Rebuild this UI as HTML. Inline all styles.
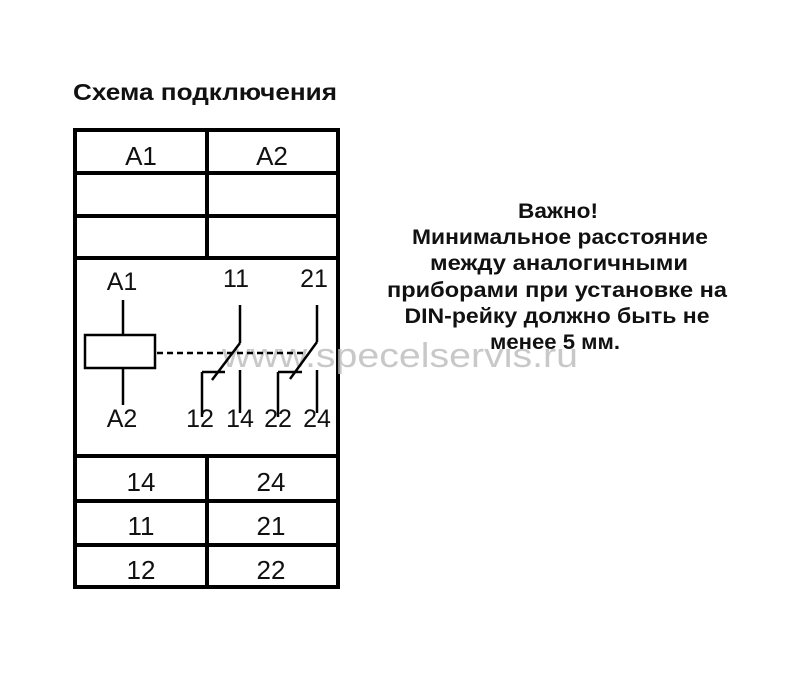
<!DOCTYPE html>
<html><head><meta charset="utf-8"><style>
html,body{margin:0;padding:0;background:#fff;}
svg{display:block;}
</style></head><body>
<svg width="800" height="700" viewBox="0 0 800 700" xmlns="http://www.w3.org/2000/svg" font-family="Liberation Sans, sans-serif">
<rect width="800" height="700" fill="#fff"/>
<text x="73" y="100" font-size="23" font-weight="bold" fill="#111" textLength="264" lengthAdjust="spacingAndGlyphs">Схема подключения</text>
<g stroke="#000" stroke-width="4" fill="none">
<rect x="75" y="130" width="263" height="457"/>
<line x1="73" y1="173" x2="340" y2="173"/>
<line x1="73" y1="216" x2="340" y2="216"/>
<line x1="73" y1="258" x2="340" y2="258"/>
<line x1="73" y1="456" x2="340" y2="456"/>
<line x1="73" y1="501" x2="340" y2="501"/>
<line x1="73" y1="545" x2="340" y2="545"/>
<line x1="207" y1="130" x2="207" y2="258"/>
<line x1="207" y1="456" x2="207" y2="589"/>
</g>
<g font-size="26" fill="#111" text-anchor="middle">
<text x="141" y="165">A1</text><text x="272" y="165">A2</text>
<text x="141" y="491">14</text><text x="271" y="491">24</text>
<text x="141" y="535">11</text><text x="271" y="535">21</text>
<text x="141" y="579">12</text><text x="271" y="579">22</text>
</g>
<text x="400" y="367" font-size="34" fill="#bbb" text-anchor="middle" opacity="0.8" textLength="356" lengthAdjust="spacingAndGlyphs">www.specelservis.ru</text>
<g stroke="#000" stroke-width="2.5" fill="none">
<rect x="85" y="335" width="70" height="33"/>
<line x1="123" y1="300" x2="123" y2="335"/>
<line x1="123" y1="368" x2="123" y2="405"/>
<line x1="157" y1="353" x2="307" y2="353" stroke-dasharray="6,4"/>
<line x1="240" y1="305" x2="240" y2="343"/>
<line x1="240" y1="343" x2="212" y2="380"/>
<line x1="202" y1="372" x2="225" y2="372"/>
<line x1="202" y1="372" x2="202" y2="417"/>
<line x1="240" y1="370" x2="240" y2="413"/>
<line x1="317" y1="305" x2="317" y2="342"/>
<line x1="317" y1="342" x2="290" y2="379"/>
<line x1="278" y1="372" x2="302" y2="372"/>
<line x1="278" y1="372" x2="278" y2="417"/>
<line x1="317" y1="370" x2="317" y2="413"/>
</g>
<g font-size="25" fill="#111" text-anchor="middle">
<text x="122" y="290">A1</text>
<text x="122" y="427">A2</text>
<text x="236" y="287">11</text>
<text x="314" y="287">21</text>
<text x="200" y="427">12</text>
<text x="240" y="427">14</text>
<text x="278" y="427">22</text>
<text x="317" y="427">24</text>
</g>
<g font-size="21" font-weight="bold" fill="#111" text-anchor="middle" lengthAdjust="spacingAndGlyphs">
<text x="558" y="218" textLength="80" lengthAdjust="spacingAndGlyphs">Важно!</text>
<text x="560" y="244" textLength="296" lengthAdjust="spacingAndGlyphs">Минимальное расстояние</text>
<text x="559" y="270" textLength="258" lengthAdjust="spacingAndGlyphs">между аналогичными</text>
<text x="557" y="297" textLength="340" lengthAdjust="spacingAndGlyphs">приборами при установке на</text>
<text x="557" y="323" textLength="305" lengthAdjust="spacingAndGlyphs">DIN-рейку должно быть не</text>
<text x="555" y="349" textLength="130" lengthAdjust="spacingAndGlyphs">менее 5 мм.</text>
</g>
</svg>
</body></html>
